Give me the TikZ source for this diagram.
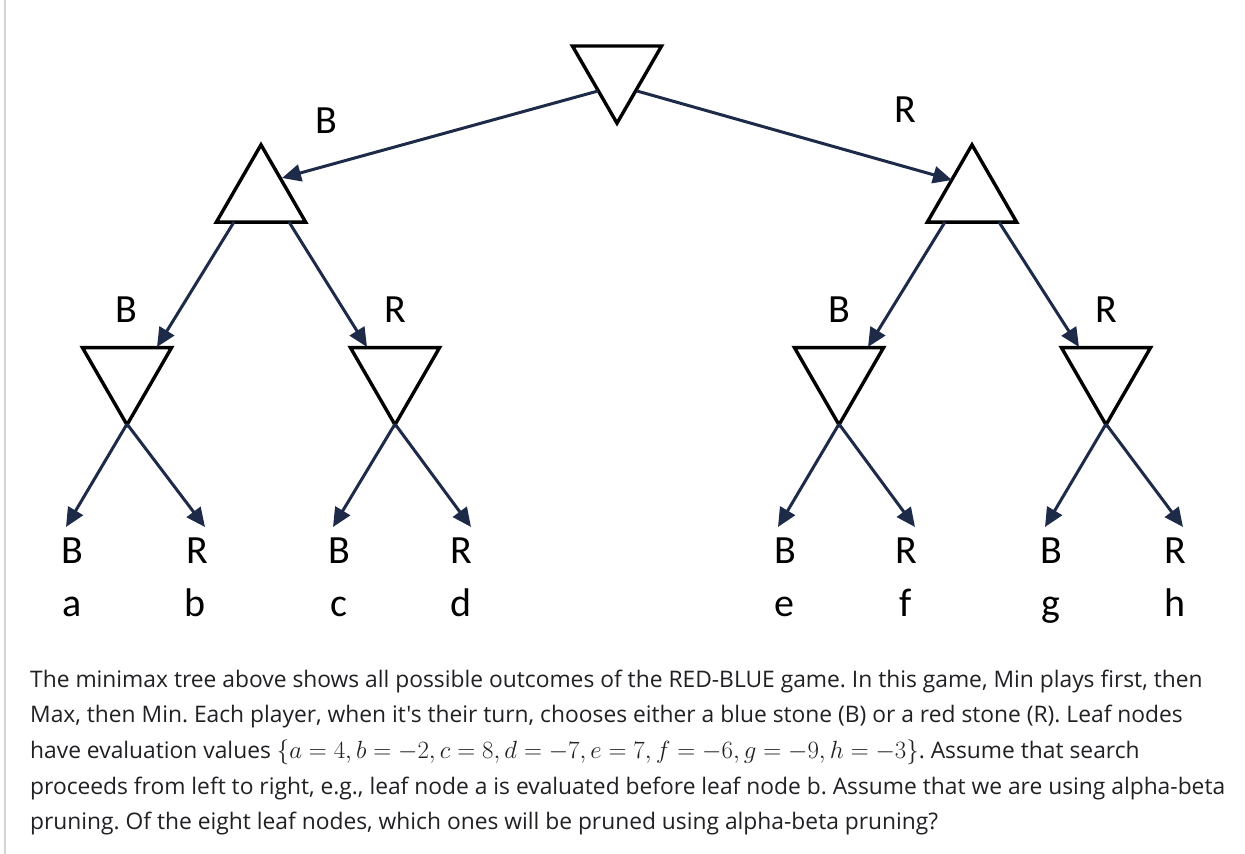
\documentclass[tikz,border=0pt]{standalone}
\usepackage{fontspec}
\setmainfont{Open Sans}[Ligatures=TeXOff]
\newfontfamily\labfont{Carlito}
\usetikzlibrary{arrows.meta,shapes.geometric}
\definecolor{navy}{HTML}{1D2A48}
\definecolor{bodytxt}{HTML}{202124}
\definecolor{edgegray}{HTML}{D4D4D4}
\frenchspacing
\begin{document}
\begin{tikzpicture}[x=1pt,y=-1pt,
  tri/.style={draw=black,line width=3.4pt,regular polygon,regular polygon sides=3,minimum size=103pt,inner sep=0pt,outer sep=0pt},
  mintri/.style={tri,shape border rotate=180},
  maxtri/.style={tri},
  move/.style={draw=navy,line width=3pt,-{Triangle[length=19pt,width=17pt]}},
  lab/.style={font=\labfont\fontsize{40}{40}\selectfont,anchor=base,inner sep=0pt},
  para/.style={font=\fontsize{22.8}{27}\selectfont,text=bodytxt,anchor=base west,inner sep=0pt}]
\useasboundingbox (0,0) rectangle (1245,854);
\fill[white] (0,0) rectangle (1245,854);
\draw[edgegray,line width=1.5pt] (5,0) -- (5,854);
% triangles
\node[mintri] (t0) at (617,71.7) {};
\node[maxtri] (ml) at (261,196.3) {};
\node[maxtri] (mr) at (972,196.3) {};
\node[mintri] (ll) at (127,373.3) {};
\node[mintri] (lr) at (395,373.3) {};
\node[mintri] (rl) at (839,373.3) {};
\node[mintri] (rr) at (1106,373.3) {};
% connector end points
\coordinate (t0a) at (598,91);
\coordinate (t0b) at (637,91);
\coordinate (mlin) at (282,178);
\coordinate (mrin) at (952,180);
\coordinate (mla) at (234,222);
\coordinate (mlb) at (289,222);
\coordinate (mra) at (945,222);
\coordinate (mrb) at (999,222);
\coordinate (llin) at (157,347);
\coordinate (lrin) at (367,347);
\coordinate (rlin) at (868,347);
\coordinate (rrin) at (1079,347);
\coordinate (llx) at (127,424);
\coordinate (lrx) at (395,424);
\coordinate (rlx) at (839,424);
\coordinate (rrx) at (1106,424);
\coordinate (la) at (66,527);
\coordinate (lb) at (205,527);
\coordinate (lc) at (333,527);
\coordinate (ld) at (471,527);
\coordinate (le) at (778,527);
\coordinate (lf) at (915,527);
\coordinate (lg) at (1045,527);
\coordinate (lh) at (1183,527);
% connectors
\draw[move] (t0a) -- (mlin);
\draw[move] (t0b) -- (mrin);
\draw[move] (mla) -- (llin);
\draw[move] (mlb) -- (lrin);
\draw[move] (mra) -- (rlin);
\draw[move] (mrb) -- (rrin);
\draw[move] (llx) -- (la);
\draw[move] (llx) -- (lb);
\draw[move] (lrx) -- (lc);
\draw[move] (lrx) -- (ld);
\draw[move] (rlx) -- (le);
\draw[move] (rlx) -- (lf);
\draw[move] (rrx) -- (lg);
\draw[move] (rrx) -- (lh);
% move labels
\node[lab] (l1b) at (326,133) {B};
\node[lab] (l1r) at (905,122) {R};
\node[lab] (l2a) at (126,322) {B};
\node[lab] (l2b) at (395,322) {R};
\node[lab] (l2c) at (839,322) {B};
\node[lab] (l2d) at (1106,322) {R};
% leaves
\node[lab] (sa) at (72,563) {B};
\node[lab] (sb) at (197,563) {R};
\node[lab] (sc) at (339,563) {B};
\node[lab] (sd) at (461,563) {R};
\node[lab] (se) at (785,563) {B};
\node[lab] (sf) at (906,563) {R};
\node[lab] (sg) at (1051,563) {B};
\node[lab] (sh) at (1175,563) {R};
\node[lab] (na) at (72,616) {a};
\node[lab] (nb) at (195,616) {b};
\node[lab] (nc) at (339,616) {c};
\node[lab] (nd) at (461,616) {d};
\node[lab] (ne) at (784,616) {e};
\node[lab] (nf) at (906,616) {f};
\node[lab] (ng) at (1051,616) {g};
\node[lab] (nh) at (1175,616) {h};
% paragraph
\node[para] (p1) at (30,687) {The minimax tree above shows all possible outcomes of the RED-BLUE game. In this game, Min plays first, then};
\node[para] (p2) at (30,722.7) {Max, then Min. Each player, when it's their turn, chooses either a blue stone (B) or a red stone (R). Leaf nodes};
\node[para] (p3) at (30,758.4) {have evaluation values {\fontsize{29.5}{32}\selectfont$\{a=4,b=-2,c=8,d=-7,e=7,f=-6,g=-9,h=-3\}$}. Assume that search};
\node[para] (p4) at (30,794.1) {proceeds from left to right, e.g., leaf node a is evaluated before leaf node b. Assume that we are using alpha-beta};
\node[para] (p5) at (30,829.8) {pruning. Of the eight leaf nodes, which ones will be pruned using alpha-beta pruning?};
\end{tikzpicture}
\end{document}
